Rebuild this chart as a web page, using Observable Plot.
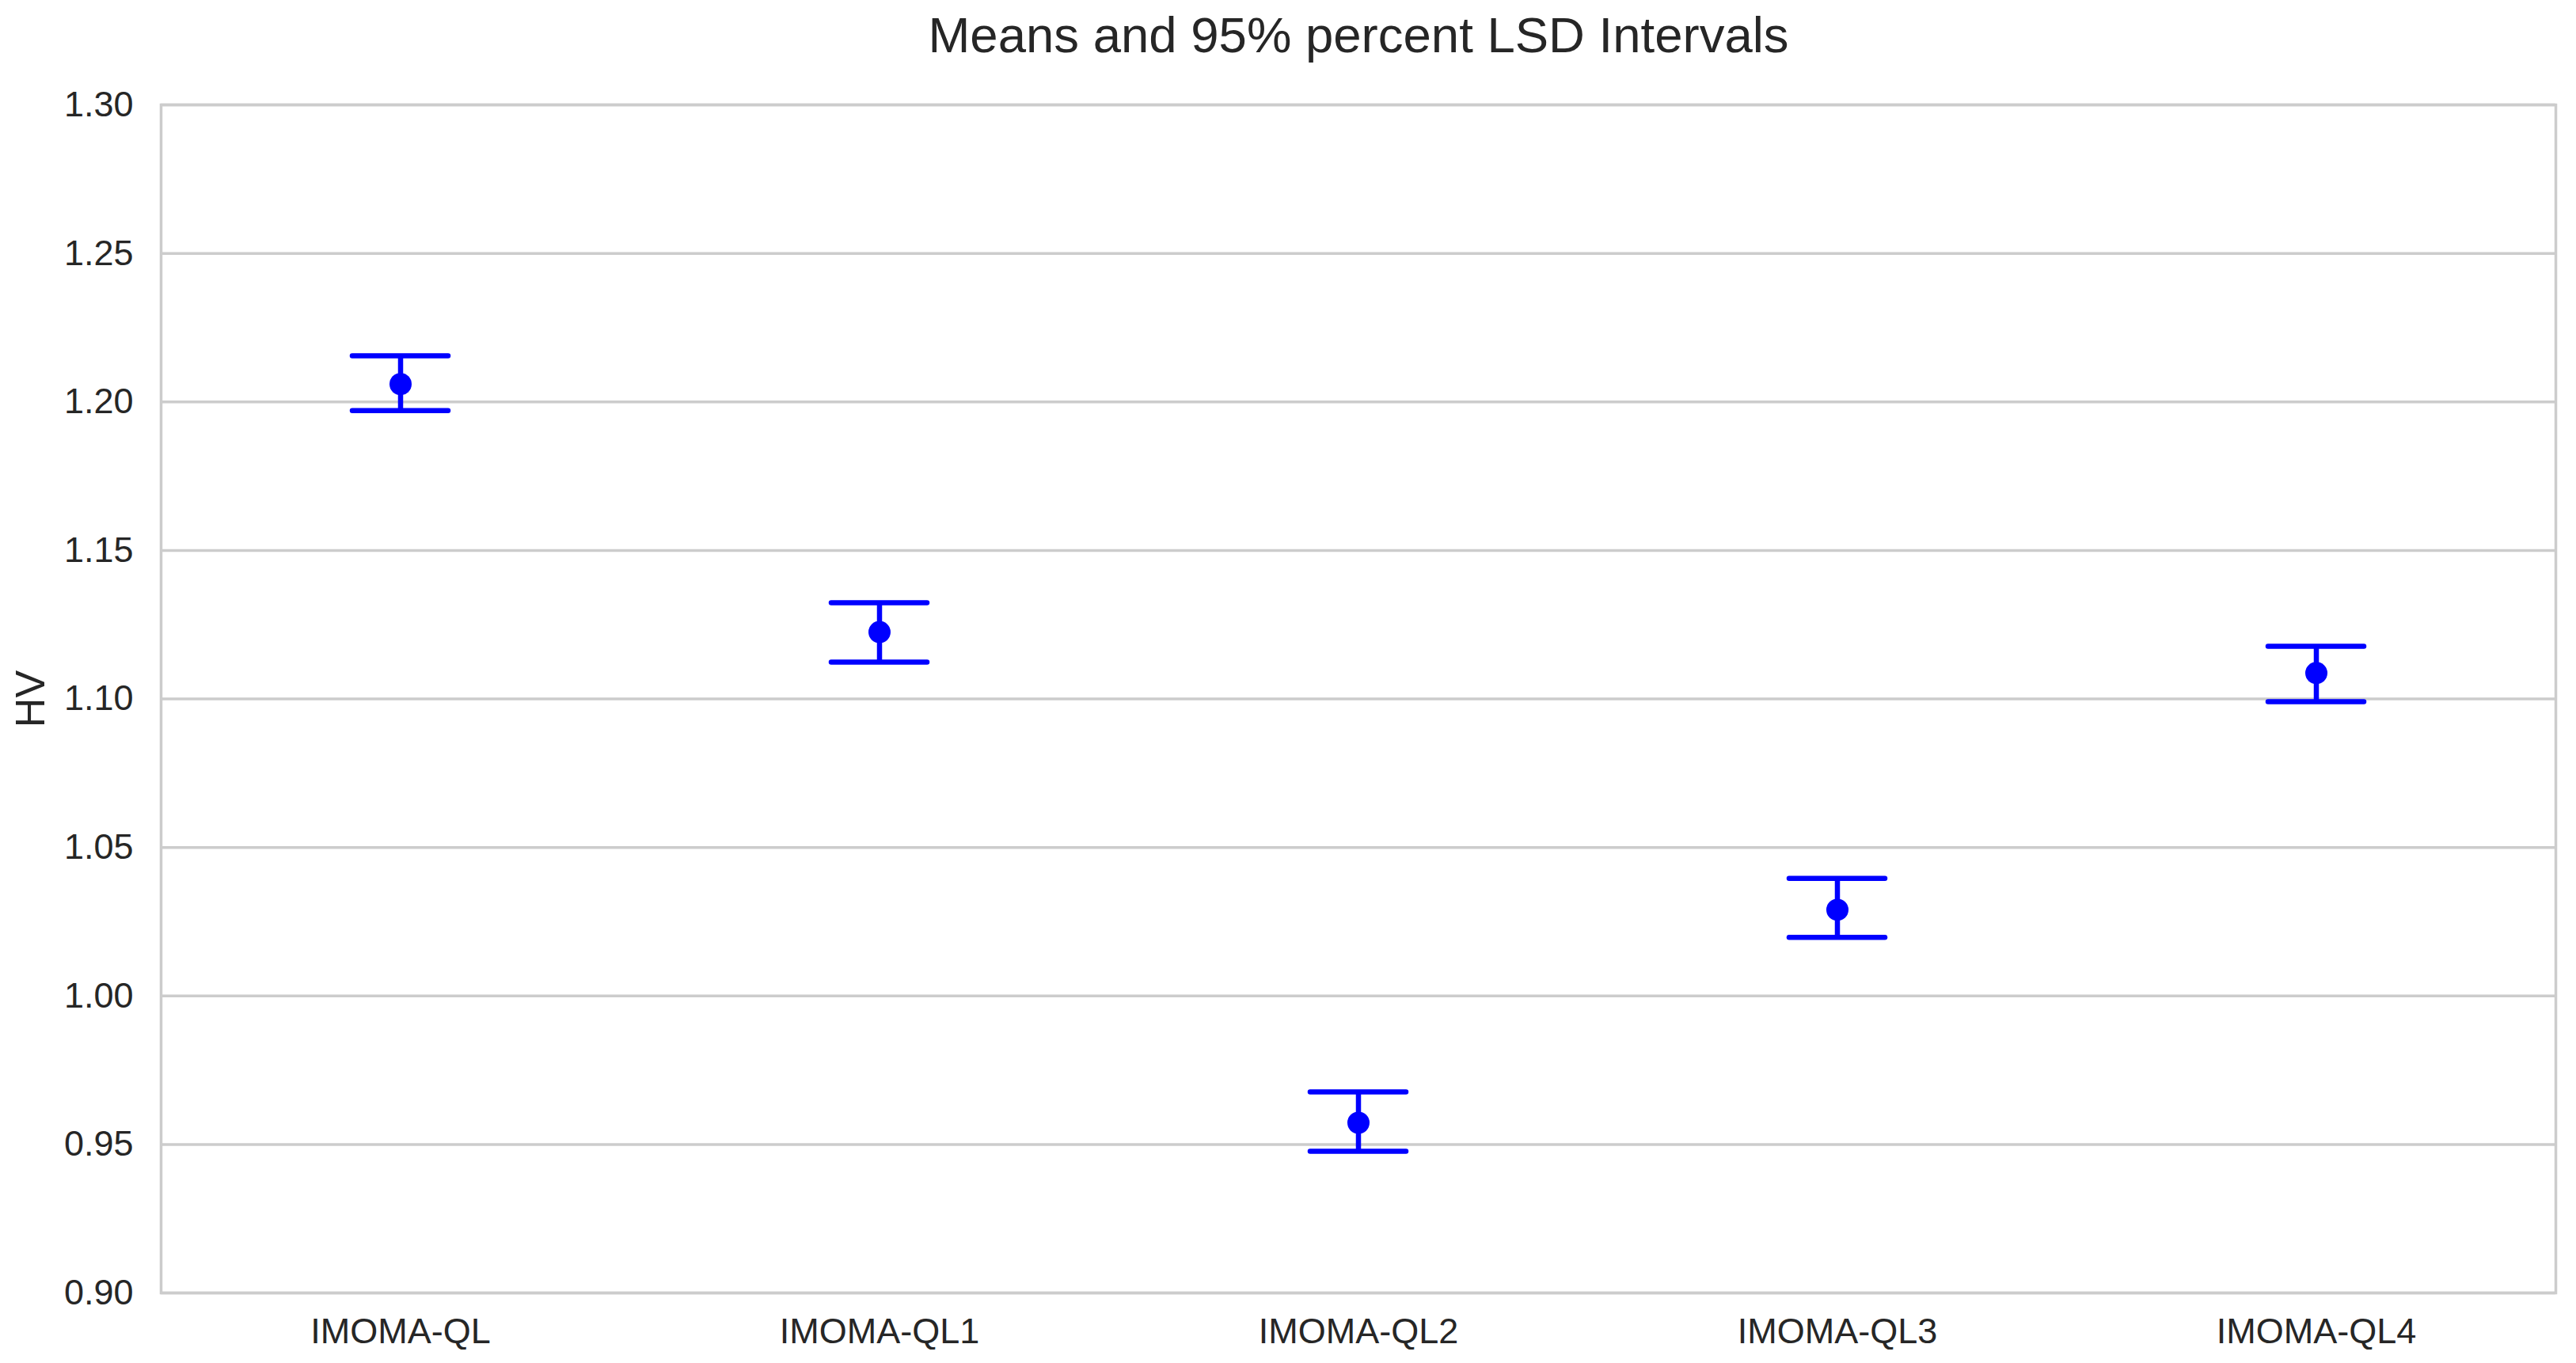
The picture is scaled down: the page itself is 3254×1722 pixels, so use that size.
<!DOCTYPE html>
<html>
<head>
<meta charset="utf-8">
<script src="https://cdn.jsdelivr.net/npm/d3@7"></script>
<script src="https://cdn.jsdelivr.net/npm/@observablehq/plot@0.6"></script>
<style>
  html, body { margin: 0; padding: 0; background: #ffffff; }
  #chart svg { display: block; }
</style>
</head>
<body>
<div id="chart"></div>
<script>
const names = ["IMOMA-QL", "IMOMA-QL1", "IMOMA-QL2", "IMOMA-QL3", "IMOMA-QL4"];
const means = [1.206, 1.1225, 0.9573, 1.029, 1.1087];
const lower = [1.1971, 1.1124, 0.9477, 1.0197, 1.0991];
const upper = [1.2155, 1.1324, 0.9677, 1.0396, 1.1177];
const yTicks = [0.90, 0.95, 1.00, 1.05, 1.10, 1.15, 1.20, 1.25, 1.30];
const titleText = "Means and 95% percent LSD Intervals";
const yLabel = "HV";

const data = names.map((name, i) => ({name, mean: means[i], lo: lower[i], hi: upper[i]}));

const fontFamily = "'Liberation Sans', Arial, Helvetica, sans-serif";
const textColor = "#262626";
const gridColor = "#cccccc";

const chart = Plot.plot({
  width: 3254,
  height: 1722,
  marginLeft: 203,
  marginRight: 26,
  marginTop: 132,
  marginBottom: 89,
  style: {fontFamily, color: textColor, background: "#ffffff"},
  x: {type: "band", domain: names, padding: 0},
  y: {domain: [0.9, 1.3], ticks: yTicks},
  marks: [
    Plot.gridY(yTicks, {stroke: gridColor, strokeOpacity: 1, strokeWidth: 3.5}),
    Plot.frame({stroke: gridColor, strokeWidth: 3.5}),
    Plot.ruleX(data, {x: "name", y1: "lo", y2: "hi", stroke: "#0000ff", strokeWidth: 6.5}),
    Plot.tickY(data, {x: "name", y: "lo", stroke: "#0000ff", strokeWidth: 6.5, strokeLinecap: "round", insetLeft: 242, insetRight: 242}),
    Plot.tickY(data, {x: "name", y: "hi", stroke: "#0000ff", strokeWidth: 6.5, strokeLinecap: "round", insetLeft: 242, insetRight: 242}),
    Plot.dot(data, {x: "name", y: "mean", r: 14, fill: "#0000ff", stroke: null}),
    Plot.axisY(yTicks, {tickSize: 0, tickPadding: 35, tickFormat: d3.format(".2f"), fontSize: 45, label: null, fill: textColor}),
    Plot.axisX({tickSize: 0, tickPadding: 32, fontSize: 45, label: null, fill: textColor}),
    Plot.text([yLabel], {frameAnchor: "left", textAnchor: "middle", dx: -164, rotate: -90, fontSize: 52, fill: textColor}),
    Plot.text([titleText], {frameAnchor: "top", dy: -112, fontSize: 63.5, fill: textColor})
  ]
});

document.getElementById("chart").appendChild(chart);
</script>
</body>
</html>
